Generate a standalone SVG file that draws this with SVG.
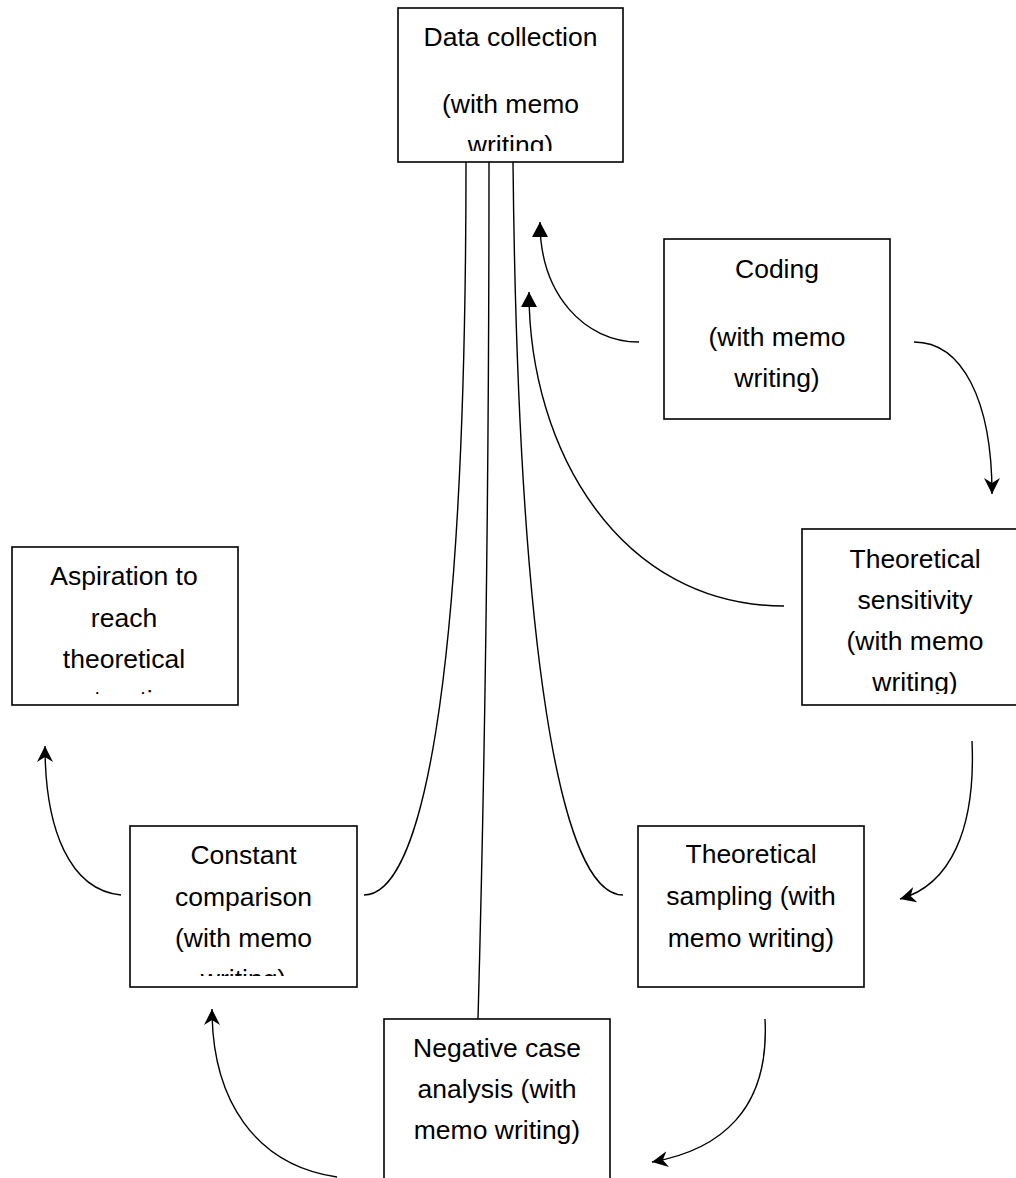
<svg xmlns="http://www.w3.org/2000/svg" width="1016" height="1178" viewBox="0 0 1016 1178">
<style>
.box{fill:#fff;stroke:#000;stroke-width:1.6}
.lbl{font-family:"Liberation Sans",Arial,sans-serif;font-size:26.5px;fill:#000;text-anchor:middle}
.con{fill:none;stroke:#000;stroke-width:1.4}
</style>
<defs>
<marker id="tri" markerUnits="userSpaceOnUse" markerWidth="16" markerHeight="16" viewBox="0 0 16 16" refX="15" refY="8" orient="auto">
<path d="M0,0 L15,8 L0,16 z" fill="#000"/>
</marker>
<marker id="stealth" markerUnits="userSpaceOnUse" markerWidth="17" markerHeight="16" viewBox="0 0 17 16" refX="16" refY="8" orient="auto">
<path d="M0,0 L16,8 L0,16 L5,8 z" fill="#000"/>
</marker>
<clipPath id="cDC"><rect x="398" y="8" width="225" height="143"/></clipPath>
<clipPath id="cCO"><rect x="664" y="239" width="226" height="169"/></clipPath>
<clipPath id="cTS"><rect x="802" y="529" width="230" height="165"/></clipPath>
<clipPath id="cAS"><rect x="12" y="547" width="226" height="147"/></clipPath>
<clipPath id="cCC"><rect x="130" y="826" width="227" height="150"/></clipPath>
<clipPath id="cSA"><rect x="638" y="826" width="226" height="150"/></clipPath>
<clipPath id="cNC"><rect x="384" y="1019" width="226" height="170"/></clipPath>
</defs>

<g id="connectors">
<path class="con" d="M466,162 C466,700 420,895 364,895"/>
<path class="con" d="M489,162 C489,500 484,800 478,1019"/>
<path class="con" d="M513,162 C518,650 560,895 623,895"/>
<path class="con" d="M639,342 C585,342 540,295 540,222" marker-end="url(#tri)"/>
<path class="con" d="M784,606 C620,606 529,450 529,292" marker-end="url(#tri)"/>
<path class="con" d="M914,342 C962,342 992,400 992,494" marker-end="url(#stealth)"/>
<path class="con" d="M972,741 C976,830 950,885 900,899" marker-end="url(#stealth)"/>
<path class="con" d="M765,1019 C770,1110 720,1150 652,1162" marker-end="url(#stealth)"/>
<path class="con" d="M121,895 C70,890 45,830 45,746" marker-end="url(#stealth)"/>
<path class="con" d="M337,1177 C255,1165 212,1100 212,1009" marker-end="url(#stealth)"/>
</g>

<g id="data-collection">
<rect class="box" x="398" y="8" width="225" height="154"/>
<g clip-path="url(#cDC)">
<text class="lbl" x="510.5" y="46">Data collection</text>
<text class="lbl" x="510.5" y="113">(with memo</text>
<text class="lbl" x="510.5" y="154">writing)</text>
</g>
</g>

<g id="coding">
<rect class="box" x="664" y="239" width="226" height="180"/>
<g clip-path="url(#cCO)">
<text class="lbl" x="777" y="278">Coding</text>
<text class="lbl" x="777" y="346">(with memo</text>
<text class="lbl" x="777" y="387">writing)</text>
</g>
</g>

<g id="theoretical-sensitivity">
<rect class="box" x="802" y="529" width="226" height="176"/>
<g clip-path="url(#cTS)">
<text class="lbl" x="915" y="568">Theoretical</text>
<text class="lbl" x="915" y="609">sensitivity</text>
<text class="lbl" x="915" y="650">(with memo</text>
<text class="lbl" x="915" y="691">writing)</text>
</g>
</g>

<g id="aspiration">
<rect class="box" x="12" y="547" width="226" height="158"/>
<g clip-path="url(#cAS)">
<text class="lbl" x="124" y="585">Aspiration to</text>
<text class="lbl" x="124" y="627">reach</text>
<text class="lbl" x="124" y="668">theoretical</text>
<text class="lbl" x="124" y="709">saturation</text>
</g>
</g>

<g id="constant-comparison">
<rect class="box" x="130" y="826" width="227" height="161"/>
<g clip-path="url(#cCC)">
<text class="lbl" x="243.5" y="864">Constant</text>
<text class="lbl" x="243.5" y="906">comparison</text>
<text class="lbl" x="243.5" y="947">(with memo</text>
<text class="lbl" x="243.5" y="988">writing)</text>
</g>
</g>

<g id="theoretical-sampling">
<rect class="box" x="638" y="826" width="226" height="161"/>
<g clip-path="url(#cSA)">
<text class="lbl" x="751" y="863">Theoretical</text>
<text class="lbl" x="751" y="905">sampling (with</text>
<text class="lbl" x="751" y="947">memo writing)</text>
</g>
</g>

<g id="negative-case">
<rect class="box" x="384" y="1019" width="226" height="200"/>
<g clip-path="url(#cNC)">
<text class="lbl" x="497" y="1057">Negative case</text>
<text class="lbl" x="497" y="1098">analysis (with</text>
<text class="lbl" x="497" y="1139">memo writing)</text>
</g>
</g>
</svg>
